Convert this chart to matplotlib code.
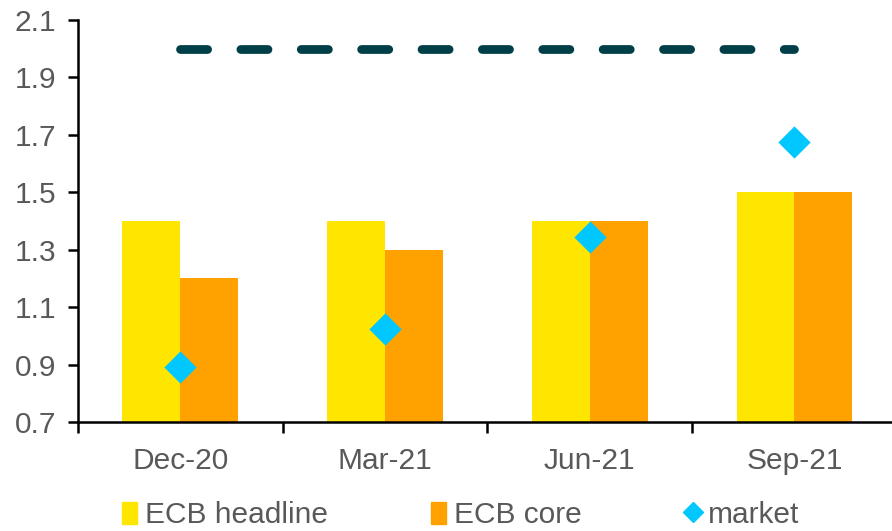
import matplotlib.pyplot as plt
from matplotlib.patches import Patch
from matplotlib.lines import Line2D
import numpy as np

plt.rcParams['font.family'] = ['Liberation Sans', 'DejaVu Sans']

quarters = ["Dec-20", "Mar-21", "Jun-21", "Sep-21"]
ecb_headline = [1.4, 1.4, 1.4, 1.5]
ecb_core = [1.2, 1.3, 1.4, 1.5]
market = [0.89, 1.025, 1.345, 1.675]
target = [2.0, 2.0, 2.0, 2.0]

yellow = "#ffe600"
orange = "#ffa200"
cyan = "#00c8ff"
teal = "#003f48"
grey = "#595959"
fs = 21.5

fig = plt.figure(figsize=(8.92, 5.31), dpi=100)
ax = fig.add_axes([0.0874, 0.2053, 0.918, 0.757])

x = np.arange(len(quarters))
w = 0.283
ax.bar(x - w / 2, ecb_headline, width=w, color=yellow, zorder=2)
ax.bar(x + w / 2, ecb_core, width=w, color=orange, zorder=2)
ax.plot(x, target, color=teal, lw=6.3, dashes=(3.1, 3.8), dash_capstyle='round', zorder=3)
ax.scatter(x, market, marker='D', s=270, color=cyan, zorder=4, linewidths=0)

ax.set_ylim(0.7, 2.1)
yt = np.arange(0.7, 2.11, 0.2)
ax.set_yticks(yt)
ax.set_yticklabels([f"{v:.1f}" for v in yt])
ax.set_xlim(-0.5, 3.5)
ax.set_xticks(np.arange(-0.5, 3.6, 1.0))
ax.set_xticklabels([])
ax.set_xticks(x, minor=True)
ax.set_xticklabels(quarters, minor=True)

for s in ["top", "right"]:
    ax.spines[s].set_visible(False)
ax.spines["left"].set_linewidth(1.8)
ax.spines["bottom"].set_linewidth(1.8)
ax.tick_params(axis='y', length=7, width=1.8, labelsize=fs, labelcolor=grey, pad=8.5)
ax.tick_params(axis='x', which='major', length=8, width=1.8)
ax.tick_params(axis='x', which='minor', length=0, labelsize=fs, labelcolor=grey, pad=18)

handles = [
    Patch(color=yellow, label="ECB headline"),
    Patch(color=orange, label="ECB core"),
    Line2D([], [], marker='D', color=cyan, lw=0, markersize=10, label="market"),
]
leg = fig.legend(handles=handles, loc='lower left', bbox_to_anchor=(0.107, -0.047), ncol=3,
                 frameon=False, fontsize=fs, handlelength=0.5, handleheight=0.75,
                 handletextpad=0.27, columnspacing=3.45)
for t in leg.get_texts():
    t.set_color(grey)

fig.savefig("out.png", dpi=100)
